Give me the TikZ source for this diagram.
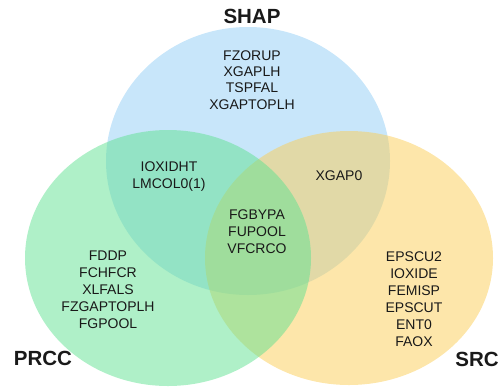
\documentclass[tikz,border=0pt]{standalone}
\usepackage{fontspec}
\setmainfont{Liberation Sans}
\usepackage{tikz}
\usetikzlibrary{shapes.geometric}
\usepackage{xcolor}
\definecolor{shapblue}{RGB}{145,205,245}
\definecolor{prccgreen}{RGB}{95,225,145}
\definecolor{srcyellow}{RGB}{251,205,85}
\definecolor{inktext}{RGB}{25,25,25}
\tikzset{
  setblob/.style={ellipse,draw=none,inner sep=0pt,fill opacity=0.5},
  members/.style={align=center,text=inktext,inner sep=0pt,
    font=\fontsize{14}{17}\selectfont},
  setname/.style={text=inktext,inner sep=0pt,
    font=\fontsize{20.5}{22}\selectfont\bfseries}
}

\begin{document}
\begin{tikzpicture}[x=1pt,y=-1pt]
        \useasboundingbox (0,0) rectangle (503,389);
        % the three sets
        \node[setblob,fill=shapblue,minimum width=284pt,minimum height=268pt] (shap) at (248,161) {};
        \node[setblob,fill=srcyellow,minimum width=288pt,minimum height=254pt] (src) at (349,258) {};
        \node[setblob,fill=prccgreen,minimum width=286pt,minimum height=256pt] (prcc) at (168,258) {};
        % set names
        \node[setname] (shapname) at (252,16) {SHAP};
        \node[setname] (prccname) at (43,358) {PRCC};
        \node[setname] (srcname) at (477,359) {SRC};
        % members of each region
        \node[members,font=\fontsize{14}{16.3}\selectfont] (shaponly) at (252,80) {FZORUP\\XGAPLH\\TSPFAL\\XGAPTOPLH};
        \node[members] (shapprcc) at (169,177) {IOXIDHT\\LMCOL0(1)};
        \node[members] (shapsrc) at (339,176) {XGAP0};
        \node[members] (allthree) at (257,231.5) {FGBYPA\\FUPOOL\\VFCRCO};
        \node[members] (prcconly) at (108,289.5) {FDDP\\FCHFCR\\XLFALS\\FZGAPTOPLH\\FGPOOL};
        \node[members] (srconly) at (414,299.5) {EPSCU2\\IOXIDE\\FEMISP\\EPSCUT\\ENT0\\FAOX};
      \end{tikzpicture}
\end{document}
